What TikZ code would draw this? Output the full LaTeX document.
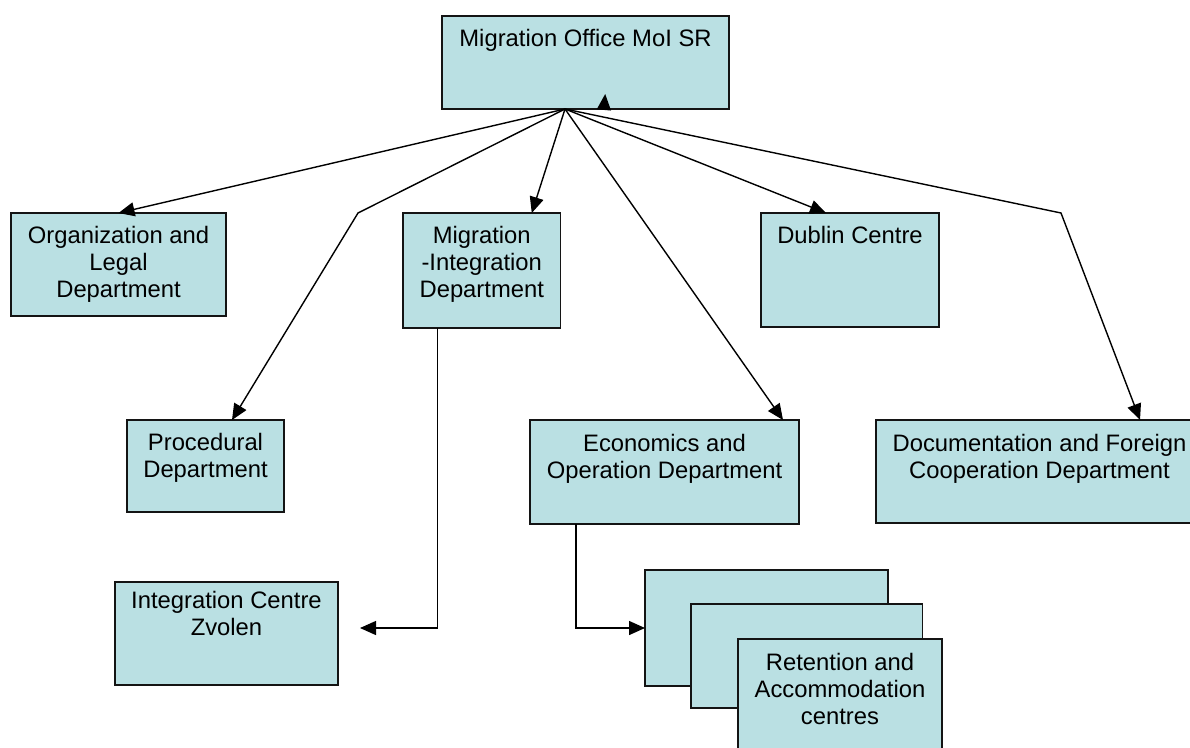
\documentclass[tikz,border=0pt]{standalone}
\usepackage{fontspec}
\setmainfont{Liberation Sans}
\usetikzlibrary{arrows.meta,calc}
\definecolor{boxfill}{RGB}{186,224,227}
\definecolor{edge}{RGB}{20,20,20}
\newcommand{\fs}{\rule{0pt}{19pt}}
\tikzset{
  box/.style={draw=edge, fill=boxfill, line width=1.8pt, anchor=north west, inner sep=0pt, outer sep=0pt},
  txt/.style={anchor=north, align=center, inner sep=0pt, font=\fontsize{23.8}{27}\selectfont, text=black},
  conn/.style={draw=black, line width=1.4pt},
  arr/.style={conn, -{Triangle[length=16pt,width=14pt]}},
}
\begin{document}
\begin{tikzpicture}[x=1pt,y=-1pt]
\useasboundingbox (0,0) rectangle (1190,747);
\clip (0,0) rectangle (1190,747);
\fill[white] (0,0) rectangle (1190,747);

% boxes
\node[box, minimum width=287pt, minimum height=93pt] (top) at (442,16) {};
\node[box, minimum width=215pt, minimum height=103pt] (org) at (11,213) {};
\node[box, minimum width=157pt, minimum height=92pt] (proc) at (127,420) {};
\node[box, minimum width=157.5pt, minimum height=115pt] (mi) at (403,213) {};
\node[box, minimum width=178pt, minimum height=114pt] (dub) at (761,213) {};
\node[box, minimum width=269pt, minimum height=104pt] (eco) at (530,420) {};
\node[box, minimum width=327pt, minimum height=103pt] (doc) at (876,420) {};
\node[box, minimum width=223pt, minimum height=103pt] (zvo) at (115,582) {};
\node[box, minimum width=243pt, minimum height=116pt] (rac1) at (645,570) {};
\node[box, minimum width=231.5pt, minimum height=104pt] (rac2) at (691,604) {};
\node[box, minimum width=204pt, minimum height=125pt] (rac3) at (738,639) {};

% texts
\node[txt] (topt) at ([yshift=-11pt]top.north) {\fs Migration Office MoI SR};
\node[txt] (orgt) at ([yshift=-11pt]org.north) {\fs Organization and\\Legal\\Department};
\node[txt] (proct) at ([yshift=-11.5pt]proc.north) {\fs Procedural\\Department};
\node[txt] (mit) at ([yshift=-11pt]mi.north) {\fs Migration\\-Integration\\Department};
\node[txt] (dubt) at ([yshift=-11pt]dub.north) {\fs Dublin Centre};
\node[txt] (ecot) at ([yshift=-12pt]eco.north) {\fs Economics and\\Operation Department};
\node[txt] (doct) at ([yshift=-12pt]doc.north) {\fs Documentation and Foreign\\Cooperation Department};
\node[txt] (zvot) at ([yshift=-7.5pt]zvo.north) {\fs Integration Centre\\Zvolen};
\node[txt] (rac3t) at ([yshift=-12pt]rac3.north) {\fs Retention and\\Accommodation\\centres};

% connectors
\coordinate (hub) at ([xshift=-20.5pt]top.south);
\coordinate (bendL) at (358,213);
\coordinate (bendR) at (1061,213);
\draw[arr] (hub) -- (org.north);
\draw[arr] (hub) -- (bendL) -- ([xshift=26.5pt]proc.north);
\draw[arr] (hub) -- ([xshift=50pt]mi.north);
\draw[arr] (hub) -- ([xshift=118.5pt]eco.north);
\draw[arr] (hub) -- ([xshift=-24pt]dub.north);
\draw[arr] (hub) -- (bendR) -- ([xshift=100.5pt]doc.north);
\coordinate (zvoend) at (360,628);
\draw[arr] ([xshift=-44pt]mi.south) |- (zvoend);
\draw[arr] ([xshift=-88.5pt]eco.south) |- (rac1.west);
\coordinate (stubA) at (604,108.5);
\coordinate (stubB) at (605.2,94);
\draw[arr] (stubA) -- (stubB);
\end{tikzpicture}
\end{document}
